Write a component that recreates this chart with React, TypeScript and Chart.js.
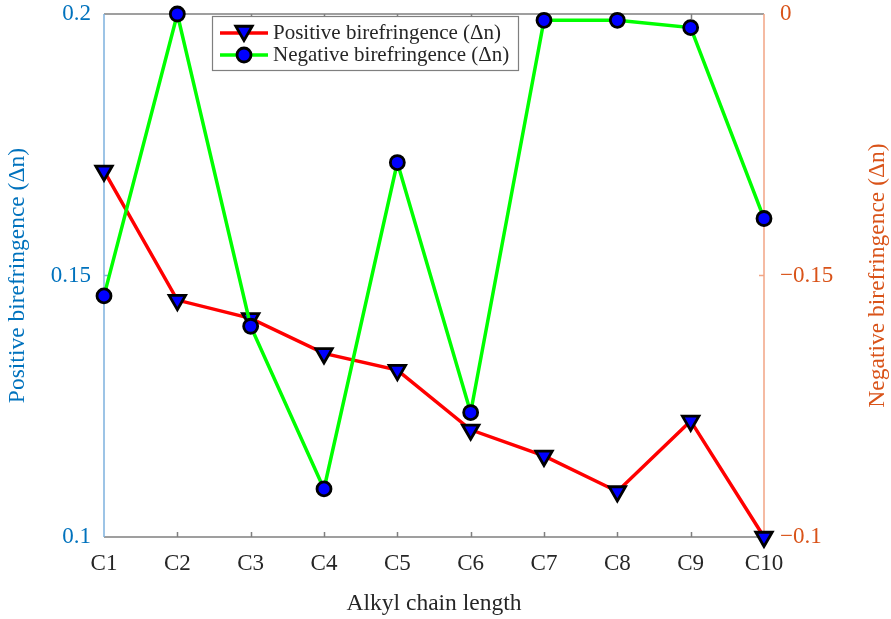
import React, { useEffect, useRef } from "react";
import { Chart, registerables } from "chart.js";

Chart.register(...registerables);

// Alkyl chain lengths on the x axis
const categories = ["C1", "C2", "C3", "C4", "C5", "C6", "C7", "C8", "C9", "C10"];

// Positive birefringence (left axis)
const positiveDn = [0.17, 0.1453, 0.1418, 0.1351, 0.1319, 0.1205, 0.1155, 0.1087, 0.1222, 0.1];

// Negative birefringence (right axis)
const negativeDn = [-0.0539, 0, -0.0597, -0.0908, -0.0284, -0.0762, -0.0012, -0.0012, -0.0026, -0.0391];

// Tick labels as printed on each y axis (bottom to top)
const leftTickLabels = ["0.1", "0.15", "0.2"];
const rightTickLabels = ["\u22120.1", "\u22120.15", "0"];

const positiveLabel = "Positive birefringence (\u0394n)";
const negativeLabel = "Negative birefringence (\u0394n)";
const xTitle = "Alkyl chain length";

const SERIF = "'Liberation Serif', 'Times New Roman', serif";
const LEFT_COLOR = "#0072BD";
const RIGHT_COLOR = "#D95319";
const TEXT_COLOR = "#262626";

const LINE_W = 3.5;
const TRI_R = 9.5;
const CIRCLE_R = 7;
const MARK_BORDER = 2.8;

function drawTriangleDown(ctx: CanvasRenderingContext2D, cx: number, cy: number, r: number) {
  const s = Math.sin(Math.PI / 3) * r;
  ctx.beginPath();
  ctx.moveTo(cx, cy + r);
  ctx.lineTo(cx - s, cy - r / 2);
  ctx.lineTo(cx + s, cy - r / 2);
  ctx.closePath();
  ctx.fillStyle = "#0000FF";
  ctx.fill();
  ctx.lineWidth = MARK_BORDER;
  ctx.strokeStyle = "#000000";
  ctx.stroke();
}

function drawCircle(ctx: CanvasRenderingContext2D, cx: number, cy: number, r: number) {
  ctx.beginPath();
  ctx.arc(cx, cy, r, 0, Math.PI * 2);
  ctx.fillStyle = "#0000FF";
  ctx.fill();
  ctx.lineWidth = MARK_BORDER;
  ctx.strokeStyle = "#000000";
  ctx.stroke();
}

// Box frame with inward tick marks, drawn under the data
const framePlugin = {
  id: "frame",
  beforeDatasetsDraw(chart: any) {
    const { ctx, chartArea, scales } = chart;
    const { left, right, top, bottom } = chartArea;
    const tick = 5;
    ctx.save();
    ctx.lineWidth = 1.5;
    ctx.strokeStyle = "#808080";
    ctx.beginPath();
    ctx.moveTo(left, top);
    ctx.lineTo(right, top);
    ctx.moveTo(left, bottom);
    ctx.lineTo(right, bottom);
    for (let i = 1; i < categories.length - 1; i++) {
      const x = Math.round(scales.x.getPixelForValue(i)) + 0.5;
      ctx.moveTo(x, top);
      ctx.lineTo(x, top + tick);
      ctx.moveTo(x, bottom);
      ctx.lineTo(x, bottom - tick);
    }
    ctx.stroke();

    ctx.strokeStyle = "#7DB1DE";
    ctx.beginPath();
    ctx.moveTo(left, top);
    ctx.lineTo(left, bottom);
    const yMid = scales.y.getPixelForValue(0.15);
    ctx.moveTo(left, yMid);
    ctx.lineTo(left + tick, yMid);
    ctx.stroke();

    ctx.strokeStyle = "#F2A585";
    ctx.beginPath();
    ctx.moveTo(right, top);
    ctx.lineTo(right, bottom);
    const y1Mid = scales.y1.getPixelForValue(-0.05);
    ctx.moveTo(right, y1Mid);
    ctx.lineTo(right - tick, y1Mid);
    ctx.stroke();
    ctx.restore();
  },
};

// Right axis title, reading bottom to top
const rightTitlePlugin = {
  id: "rightTitle",
  afterDraw(chart: any) {
    const { ctx, chartArea } = chart;
    ctx.save();
    ctx.translate(878, (chartArea.top + chartArea.bottom) / 2);
    ctx.rotate(-Math.PI / 2);
    ctx.font = `23.5px ${SERIF}`;
    ctx.fillStyle = RIGHT_COLOR;
    ctx.textAlign = "center";
    ctx.textBaseline = "middle";
    ctx.fillText(negativeLabel, 0, 0);
    ctx.restore();
  },
};

// Boxed legend inside the plot
const legendPlugin = {
  id: "boxLegend",
  afterDraw(chart: any) {
    const { ctx } = chart;
    ctx.save();
    ctx.fillStyle = "#FFFFFF";
    ctx.fillRect(212.5, 16.5, 306, 54);
    ctx.lineWidth = 1.2;
    ctx.strokeStyle = "#7F7F7F";
    ctx.strokeRect(212.5, 16.5, 306, 54);

    const rows = [
      { y: 33, color: "#FF0000", label: positiveLabel, tri: true },
      { y: 55, color: "#00FF00", label: negativeLabel, tri: false },
    ];
    for (const r of rows) {
      ctx.strokeStyle = r.color;
      ctx.lineWidth = LINE_W;
      ctx.beginPath();
      ctx.moveTo(220, r.y);
      ctx.lineTo(268, r.y);
      ctx.stroke();
      if (r.tri) drawTriangleDown(ctx, 244, r.y - 2, TRI_R);
      else drawCircle(ctx, 244, r.y, CIRCLE_R);
      ctx.font = `21px ${SERIF}`;
      ctx.fillStyle = TEXT_COLOR;
      ctx.textAlign = "left";
      ctx.textBaseline = "middle";
      ctx.fillText(r.label, 273, r.y);
    }
    ctx.restore();
  },
};

export default function App() {
  const canvasRef = useRef<HTMLCanvasElement | null>(null);

  useEffect(() => {
    const canvas = canvasRef.current;
    if (!canvas) return;
    const chart = new Chart(canvas, {
      type: "line",
      data: {
        labels: categories,
        datasets: [
          {
            label: positiveLabel,
            data: positiveDn,
            yAxisID: "y",
            borderColor: "#FF0000",
            borderWidth: LINE_W,
            pointStyle: "triangle",
            rotation: 180,
            pointRadius: TRI_R,
            pointBackgroundColor: "#0000FF",
            pointBorderColor: "#000000",
            pointBorderWidth: MARK_BORDER,
            tension: 0,
            clip: false,
            order: 2,
          },
          {
            label: negativeLabel,
            data: negativeDn,
            yAxisID: "y1",
            borderColor: "#00FF00",
            borderWidth: LINE_W,
            pointStyle: "circle",
            pointRadius: CIRCLE_R,
            pointBackgroundColor: "#0000FF",
            pointBorderColor: "#000000",
            pointBorderWidth: MARK_BORDER,
            tension: 0,
            clip: false,
            order: 1,
          },
        ],
      },
      options: {
        responsive: false,
        animation: false,
        events: [],
        layout: { padding: { top: 14, left: 0, right: 0, bottom: 0 } },
        plugins: {
          legend: { display: false },
          tooltip: { enabled: false },
        },
        scales: {
          x: {
            type: "category",
            offset: false,
            grid: { display: false, drawTicks: false },
            border: { display: false },
            ticks: {
              color: TEXT_COLOR,
              font: { family: SERIF, size: 23 },
              padding: 13,
              maxRotation: 0,
              autoSkip: false,
            },
            title: {
              display: true,
              text: xTitle,
              color: TEXT_COLOR,
              font: { family: SERIF, size: 23.5 },
              padding: { top: 0, bottom: 1 },
            },
            afterFit: (scale: any) => {
              scale.height = 82;
              scale.paddingLeft = 0;
              scale.paddingRight = 0;
            },
          },
          y: {
            type: "linear",
            position: "left",
            min: 0.1,
            max: 0.2,
            grid: { display: false, drawTicks: false },
            border: { display: false },
            ticks: {
              stepSize: 0.05,
              color: LEFT_COLOR,
              font: { family: SERIF, size: 23 },
              padding: 13,
              callback: (_v: any, i: number) => leftTickLabels[i],
            },
            title: {
              display: true,
              text: positiveLabel,
              color: LEFT_COLOR,
              font: { family: SERIF, size: 23.5 },
              padding: { top: 4, bottom: 0 },
            },
            afterFit: (scale: any) => {
              scale.width = 104;
              scale.paddingTop = 0;
              scale.paddingBottom = 0;
            },
          },
          y1: {
            type: "linear",
            position: "right",
            min: -0.1,
            max: 0,
            grid: { display: false, drawTicks: false },
            border: { display: false },
            ticks: {
              stepSize: 0.05,
              color: RIGHT_COLOR,
              font: { family: SERIF, size: 23 },
              padding: 16,
              callback: (_v: any, i: number) => rightTickLabels[i],
            },
            afterFit: (scale: any) => {
              scale.width = 127;
              scale.paddingTop = 0;
              scale.paddingBottom = 0;
            },
          },
        },
      },
      plugins: [framePlugin, legendPlugin, rightTitlePlugin],
    });
    return () => chart.destroy();
  }, []);

  return (
    <div style={{ position: "absolute", left: 0, top: 0, width: 891, height: 619, background: "#FFFFFF" }}>
      <canvas ref={canvasRef} width={891} height={619} style={{ display: "block" }} />
    </div>
  );
}
